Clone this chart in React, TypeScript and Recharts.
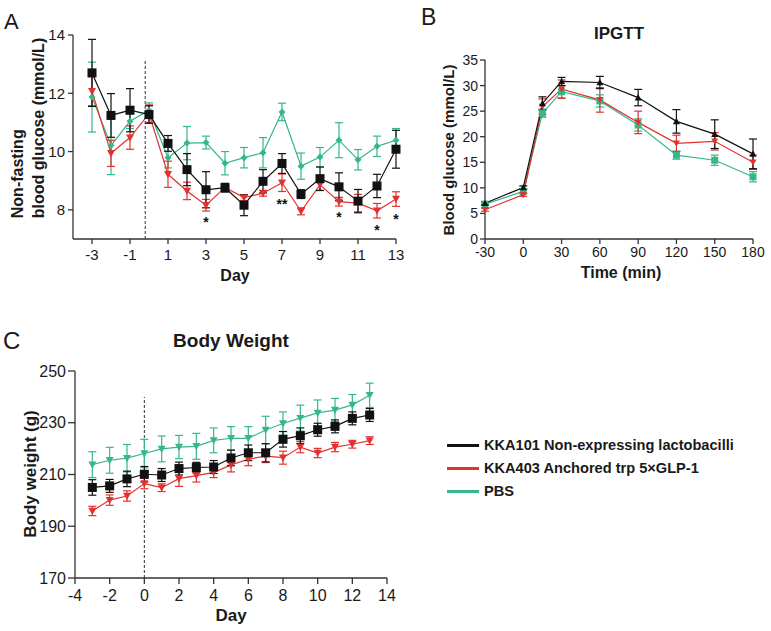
import React from 'react';
import { LineChart, Line, XAxis, YAxis, ErrorBar, ReferenceLine, ReferenceDot } from 'recharts';

const FONT = '"Liberation Sans", Arial, Helvetica, sans-serif';
const BLACK = '#111111';
const RED = '#e3312f';
const GREEN = '#35b889';
const AXIS = '#333333';

const seriesNames = ['KKA101 Non-expressing lactobacilli', 'KKA403 Anchored trp 5×GLP-1', 'PBS'];
const seriesColors = [BLACK, RED, GREEN];

// Panel A: non-fasting blood glucose
const daysA = [-3, -2, -1, 0, 1, 2, 3, 4, 5, 6, 7, 8, 9, 10, 11, 12, 13];
const glucoseBlack = [12.7, 11.24, 11.42, 11.27, 10.28, 9.38, 8.69, 8.76, 8.16, 8.98, 9.59, 8.54, 9.07, 8.79, 8.3, 8.82, 10.08];
const glucoseBlackErr = [1.15, 0.75, 0.74, 0.3, 0.27, 0.55, 0.62, 0.15, 0.36, 0.4, 0.34, 0.15, 0.4, 0.48, 0.4, 0.4, 0.65];
const glucoseRed = [12.07, 9.94, 10.48, 11.3, 9.22, 8.65, 8.16, 8.77, 8.42, 8.57, 8.93, 7.95, 8.86, 8.28, 8.23, 7.97, 8.37];
const glucoseRedErr = [0.5, 0.45, 0.4, 0.3, 0.45, 0.3, 0.2, 0.1, 0.1, 0.1, 0.3, 0.12, 0.2, 0.15, 0.3, 0.25, 0.25];
const glucoseGreen = [11.87, 10.21, 11.04, 11.42, 9.79, 10.29, 10.31, 9.6, 9.79, 9.96, 11.36, 9.5, 9.81, 10.39, 9.72, 10.18, 10.39];
const glucoseGreenErr = [1.2, 1.0, 0.25, 0.25, 0.35, 0.57, 0.22, 0.4, 0.35, 0.52, 0.3, 0.45, 0.33, 0.6, 0.35, 0.35, 0.4];
const starDays = [3, 7, 10, 12, 13];
const starValues = [7.69, 8.31, 7.86, 7.4, 7.8];
const starLabels = ['*', '**', '*', '*', '*'];
const ticksA = [-3, -1, 1, 3, 5, 7, 9, 11, 13];
const yTicksA = [8, 10, 12, 14];

// Panel B: IPGTT
const timesB = [-30, 0, 15, 30, 60, 90, 120, 150, 180];
const ipgttBlack = [7.0, 10.08, 26.5, 30.8, 30.6, 27.65, 23.0, 20.5, 16.65];
const ipgttBlackErr = [0.3, 0.3, 1.3, 0.8, 1.2, 1.6, 2.3, 2.8, 2.9];
const ipgttRed = [5.73, 8.65, 25.9, 29.3, 27.2, 22.8, 18.7, 19.1, 15.0];
const ipgttRedErr = [0.3, 0.3, 1.5, 1.8, 2.4, 2.2, 1.6, 1.7, 1.4];
const ipgttGreen = [6.83, 9.3, 24.6, 28.8, 27.0, 22.3, 16.4, 15.4, 12.17];
const ipgttGreenErr = [0.3, 0.4, 0.8, 1.2, 1.2, 1.2, 0.8, 1.0, 1.0];
const ticksB = [-30, 0, 30, 60, 90, 120, 150, 180];
const yTicksB = [0, 5, 10, 15, 20, 25, 30, 35];

// Panel C: body weight
const daysC = [-3, -2, -1, 0, 1, 2, 3, 4, 5, 6, 7, 8, 9, 10, 11, 12, 13];
const weightBlack = [205.0, 205.6, 208.3, 210.1, 209.8, 212.3, 212.7, 212.9, 216.4, 218.4, 218.4, 223.6, 225.0, 227.3, 228.6, 231.7, 233.0];
const weightBlackErr = [3, 2.5, 3, 3, 2.5, 2.5, 2, 2.5, 3, 3, 3.5, 3, 3, 2.5, 2.5, 2.5, 2.5];
const weightRed = [195.9, 200.1, 201.7, 206.5, 204.9, 208.4, 209.6, 210.8, 213.7, 215.9, 217.1, 216.5, 220.6, 218.3, 220.6, 221.7, 223.1];
const weightRedErr = [1.8, 2, 2, 2, 1.5, 3, 2.5, 2, 2.7, 2.5, 2.5, 2.5, 2.2, 1.8, 1.8, 1.5, 1.5];
const weightGreen = [213.8, 215.5, 216.3, 218.1, 219.9, 220.6, 220.9, 223.2, 224.0, 224.0, 227.2, 229.7, 231.8, 233.8, 234.9, 236.9, 240.6];
const weightGreenErr = [5, 5, 5.3, 5.5, 5, 4.5, 5, 4.8, 4.5, 4.5, 5.3, 4.5, 5, 5, 4.5, 4, 4.7];
const ticksC = [-4, -2, 0, 2, 4, 6, 8, 10, 12, 14];
const yTicksC = [170, 190, 210, 230, 250];

const build = (xs: number[], b: number[], be: number[], r: number[], re: number[], g: number[], ge: number[]) =>
  xs.map((x, i) => ({ x, black: b[i], blackErr: be[i], red: r[i], redErr: re[i], green: g[i], greenErr: ge[i] }));

const dataA = build(daysA, glucoseBlack, glucoseBlackErr, glucoseRed, glucoseRedErr, glucoseGreen, glucoseGreenErr);
const dataB = build(timesB, ipgttBlack, ipgttBlackErr, ipgttRed, ipgttRedErr, ipgttGreen, ipgttGreenErr);
const dataC = build(daysC, weightBlack, weightBlackErr, weightRed, weightRedErr, weightGreen, weightGreenErr);

type Shape = 'square' | 'triUp' | 'triDown' | 'diamond';
const marker = (shape: Shape, size: number, color: string) => (p: any) => {
  const { cx, cy, index } = p;
  if (cx == null || cy == null) return <g key={`m${index}`} />;
  const s = size;
  if (shape === 'square') return <rect key={`m${index}`} x={cx - s / 2} y={cy - s / 2} width={s} height={s} fill={color} />;
  if (shape === 'triUp')
    return <polygon key={`m${index}`} points={`${cx - s / 2},${cy + s * 0.4} ${cx + s / 2},${cy + s * 0.4} ${cx},${cy - s * 0.5}`} fill={color} />;
  if (shape === 'triDown')
    return <polygon key={`m${index}`} points={`${cx - s / 2},${cy - s * 0.4} ${cx + s / 2},${cy - s * 0.4} ${cx},${cy + s * 0.5}`} fill={color} />;
  return <polygon key={`m${index}`} points={`${cx},${cy - s / 2} ${cx + s / 2},${cy} ${cx},${cy + s / 2} ${cx - s / 2},${cy}`} fill={color} />;
};

const series = (key: string, color: string, shape: Shape, size: number, capW: number) => (
  <Line
    key={key}
    type="linear"
    dataKey={key}
    stroke={color}
    strokeWidth={1.2}
    dot={marker(shape, size, color)}
    activeDot={false}
    isAnimationActive={false}
  >
    <ErrorBar dataKey={`${key}Err`} width={capW} stroke={color} strokeWidth={1.2} direction="y" />
  </Line>
);

const txt: React.CSSProperties = { position: 'absolute', fontFamily: FONT, color: '#1a1a1a', whiteSpace: 'pre', lineHeight: 1 };
const centered = (x: number, y: number, extra: React.CSSProperties = {}): React.CSSProperties => ({
  ...txt,
  left: x,
  top: y,
  transform: 'translate(-50%, -50%)',
  ...extra,
});
const rotated = (x: number, y: number, extra: React.CSSProperties = {}): React.CSSProperties => ({
  ...txt,
  left: x,
  top: y,
  transform: 'translate(-50%, -50%) rotate(-90deg)',
  ...extra,
});

export default function App() {
  const axisLine = { stroke: AXIS, strokeWidth: 1.3 };
  const tickLine = { stroke: AXIS, strokeWidth: 1.3 };
  return (
    <div style={{ position: 'absolute', left: 0, top: 0, width: 771, height: 631, background: '#fff', overflow: 'hidden' }}>
      {/* Panel A */}
      <div style={{ position: 'absolute', left: 0, top: 0 }}>
        <LineChart width={410} height={290} data={dataA} margin={{ top: 35, right: 14, bottom: 21, left: 0 }}>
          <XAxis
            dataKey="x"
            type="number"
            domain={[-4, 13]}
            ticks={ticksA}
            height={30}
            tickSize={5}
            tickMargin={5}
            axisLine={axisLine}
            tickLine={tickLine}
            tick={{ fontSize: 15, fill: '#1a1a1a', fontFamily: FONT }}
          />
          <YAxis
            type="number"
            domain={[7, 14]}
            ticks={yTicksA}
            width={73}
            tickSize={5}
            tickMargin={3}
            axisLine={axisLine}
            tickLine={tickLine}
            tick={{ fontSize: 15, fill: '#1a1a1a', fontFamily: FONT }}
          />
          <ReferenceLine
            segment={[{ x: -0.2, y: 7 }, { x: -0.2, y: 13.15 }]}
            stroke={AXIS}
            strokeWidth={1}
            strokeDasharray="3 2"
          />
          {series('green', GREEN, 'diamond', 7, 4)}
          {series('red', RED, 'triDown', 8, 4)}
          {series('black', BLACK, 'square', 9, 4)}
          {starDays.map((d, i) => (
            <ReferenceDot
              key={`s${i}`}
              x={d}
              y={starValues[i]}
              r={0}
              shape={(p: any) => (
                <text x={p.cx} y={p.cy + 8} textAnchor="middle" fontSize={14} fontWeight="bold" fontFamily={FONT} fill="#111">
                  {starLabels[i]}
                </text>
              )}
            />
          ))}
        </LineChart>
      </div>
      <div style={{ ...txt, left: 4, top: 11, fontSize: 22 }}>A</div>
      <div style={rotated(27.5, 128, { fontSize: 16, fontWeight: 'bold', lineHeight: '21px', textAlign: 'left' })}>
        {'Non-fasting\nblood glucose (mmol/L)'}
      </div>
      <div style={centered(235, 276, { fontSize: 16, fontWeight: 'bold' })}>Day</div>

      {/* Panel B */}
      <div style={{ position: 'absolute', left: 390, top: 0 }}>
        <LineChart width={381} height={290} data={dataB} margin={{ top: 60, right: 18, bottom: 21, left: 0 }}>
          <XAxis
            dataKey="x"
            type="number"
            domain={[-30, 180]}
            ticks={ticksB}
            height={30}
            tickSize={5}
            tickMargin={3}
            axisLine={axisLine}
            tickLine={tickLine}
            tick={{ fontSize: 14, fill: '#1a1a1a', fontFamily: FONT }}
          />
          <YAxis
            type="number"
            domain={[0, 35]}
            ticks={yTicksB}
            width={95}
            tickSize={5}
            tickMargin={2}
            axisLine={axisLine}
            tickLine={tickLine}
            tick={{ fontSize: 14, fill: '#1a1a1a', fontFamily: FONT }}
          />
          {series('green', GREEN, 'square', 7, 4)}
          {series('red', RED, 'triDown', 7, 4)}
          {series('black', BLACK, 'triUp', 7, 4)}
        </LineChart>
      </div>
      <div style={{ ...txt, left: 421, top: 6, fontSize: 23 }}>B</div>
      <div style={centered(619, 33, { fontSize: 17, fontWeight: 'bold' })}>IPGTT</div>
      <div style={rotated(448, 150, { fontSize: 15, fontWeight: 'bold' })}>Blood glucose (mmol/L)</div>
      <div style={centered(621, 273, { fontSize: 16, fontWeight: 'bold' })}>Time (min)</div>

      {/* Panel C */}
      <div style={{ position: 'absolute', left: 0, top: 300 }}>
        <LineChart width={400} height={331} data={dataC} margin={{ top: 71, right: 13, bottom: 23, left: 0 }}>
          <XAxis
            dataKey="x"
            type="number"
            domain={[-4, 14]}
            ticks={ticksC}
            height={30}
            tickSize={6}
            tickMargin={6}
            axisLine={axisLine}
            tickLine={tickLine}
            tick={{ fontSize: 16, fill: '#1a1a1a', fontFamily: FONT }}
          />
          <YAxis
            type="number"
            domain={[170, 250]}
            ticks={yTicksC}
            width={75}
            tickSize={7}
            tickMargin={2}
            axisLine={axisLine}
            tickLine={tickLine}
            tick={{ fontSize: 16, fill: '#1a1a1a', fontFamily: FONT }}
          />
          <ReferenceLine
            segment={[{ x: 0, y: 170 }, { x: 0, y: 240 }]}
            stroke={AXIS}
            strokeWidth={1}
            strokeDasharray="3 2"
          />
          {series('green', GREEN, 'triDown', 8, 4)}
          {series('red', RED, 'triDown', 8, 4)}
          {series('black', BLACK, 'square', 9, 4)}
        </LineChart>
      </div>
      <div style={{ ...txt, left: 3, top: 329, fontSize: 24 }}>C</div>
      <div style={centered(231, 340, { fontSize: 19, fontWeight: 'bold' })}>Body Weight</div>
      <div style={rotated(30, 474, { fontSize: 17, fontWeight: 'bold' })}>Body weight (g)</div>
      <div style={centered(231, 615, { fontSize: 17, fontWeight: 'bold' })}>Day</div>

      {/* Legend */}
      {seriesNames.map((name, i) => (
        <div key={name} style={{ position: 'absolute', left: 447, top: 445 + i * 23 - 9, height: 18, display: 'flex', alignItems: 'center' }}>
          <div style={{ width: 32, height: 3, background: seriesColors[i] }} />
          <div style={{ marginLeft: 5, fontFamily: FONT, fontSize: 14.6, fontWeight: 'bold', color: '#1a1a1a', whiteSpace: 'pre' }}>{name}</div>
        </div>
      ))}
    </div>
  );
}
